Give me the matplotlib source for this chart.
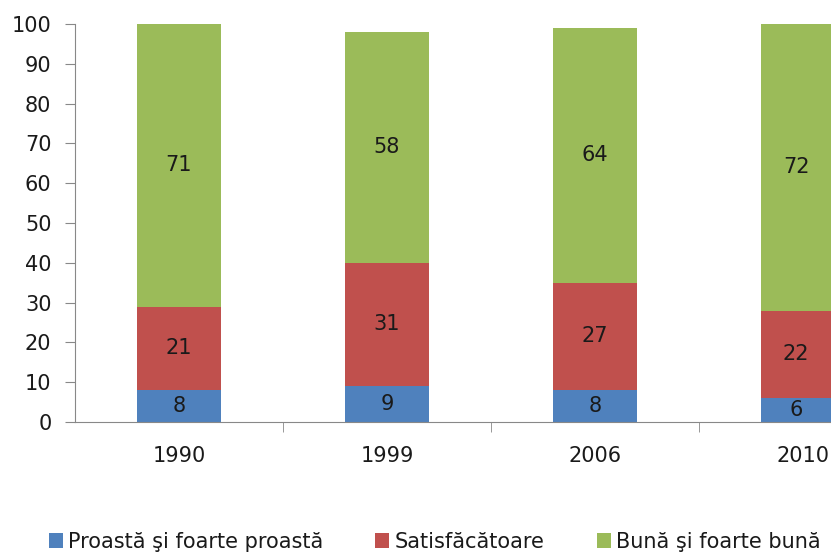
import matplotlib.pyplot as plt
import numpy as np

plt.rcParams['font.family'] = ['DejaVu Sans']

years = ['1990', '1999', '2006', '2010']
proasta = [8, 9, 8, 6]
satisf = [21, 31, 27, 22]
buna = [71, 58, 64, 72]
labels = ['Proastă şi foarte proastă', 'Satisfăcătoare', 'Bună şi foarte bună']
colors = ['#4F81BD', '#C0504D', '#9BBB59']

fig = plt.figure(figsize=(8.31, 5.52), dpi=100)
ax = fig.add_axes([75 / 831, 130 / 552, 756 / 831, 398 / 552])

x = np.arange(len(years))
bottom = np.zeros(len(years))
for vals, lab, col in zip([proasta, satisf, buna], labels, colors):
    bars = ax.bar(x, vals, 0.4, bottom=bottom, color=col, label=lab)
    ax.bar_label(bars, labels=[str(v) for v in vals], label_type='center',
                 fontsize=15, color='#1a1a1a')
    bottom += vals

ax.set_xlim(-0.5, 3.135)
ax.set_ylim(0, 100)
ax.set_yticks(range(0, 101, 10))
ax.set_xticks(x)
ax.set_xticklabels(years)
ax.set_xticks(np.arange(0.5, 3.5, 1), minor=True)
ax.tick_params(axis='x', which='major', length=0, pad=17, labelsize=15, labelcolor='#1a1a1a')
ax.tick_params(axis='x', which='minor', length=7, color='#888888', direction='out')
ax.tick_params(axis='y', length=7, color='#888888', labelsize=15, labelcolor='#1a1a1a', pad=10)
for s in ['top', 'right']:
    ax.spines[s].set_visible(False)
for s in ['left', 'bottom']:
    ax.spines[s].set_color('#888888')

ax.legend(loc='lower left', bbox_to_anchor=(34 / 831, -0.026), bbox_transform=fig.transFigure,
          ncol=3, frameon=False, fontsize=15, handlelength=0.68, handleheight=0.68,
          handletextpad=0.25, columnspacing=2.5, borderpad=0.2, labelcolor='#1a1a1a')

plt.savefig('out.png', dpi=100)
